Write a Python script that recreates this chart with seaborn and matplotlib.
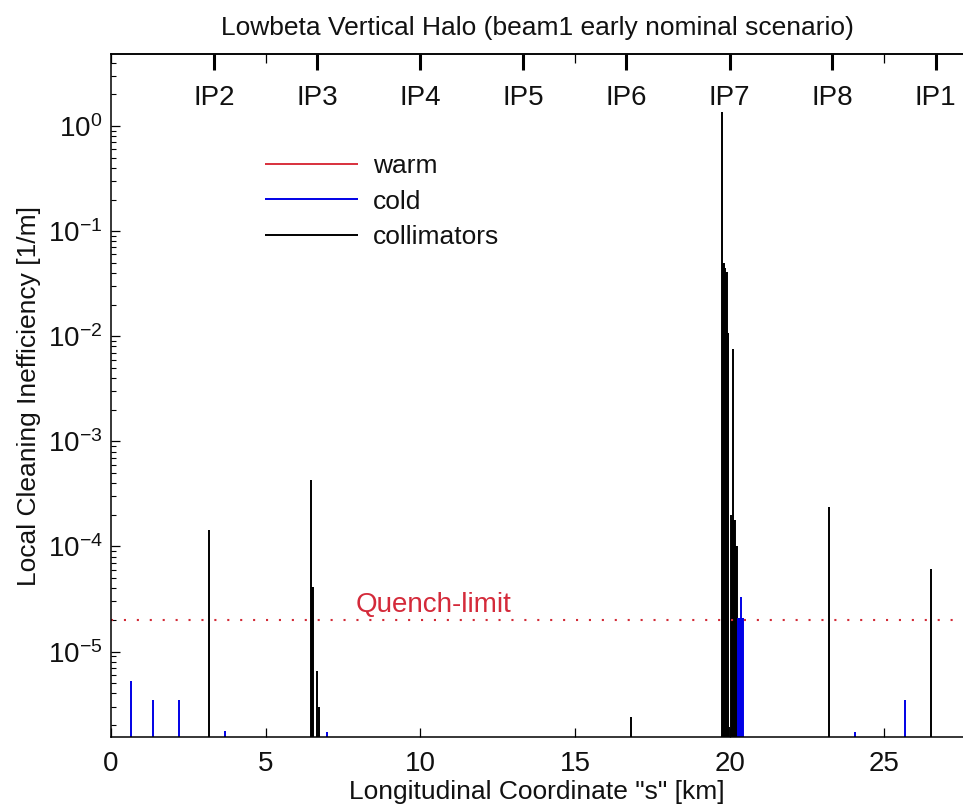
import matplotlib
matplotlib.use("Agg")
import matplotlib.pyplot as plt
import seaborn as sns
from matplotlib.ticker import LogLocator, FixedLocator, NullFormatter

# Loss locations along the ring [km] and local cleaning inefficiency [1/m]
coll_s = [3.17, 6.47, 6.50, 6.53, 6.65, 6.71, 16.81,
          19.76, 19.78, 19.80, 19.82, 19.84, 19.86, 19.88, 19.90, 19.92, 19.94, 19.955, 19.99,
          20.03, 20.06, 20.09, 20.12, 20.15, 20.18, 20.21, 20.24,
          23.21, 26.49]
coll_loss = [1.43e-4, 4.3e-4, 4.1e-5, 4.1e-5, 6.5e-6, 3.0e-6, 2.4e-6,
             1.37, 5.0e-2, 5.0e-2, 4.8e-2, 4.5e-2, 4.1e-2, 4.1e-2, 4.1e-2, 1.07e-2, 1.07e-2, 1.07e-2, 1.9e-6,
             2.0e-4, 1.8e-4, 7.5e-3, 1.8e-4, 1.8e-4, 1.8e-4, 1.0e-4, 1.0e-4,
             2.4e-4, 6.05e-5]

cold_s = [0.64, 1.35, 2.19, 3.68, 6.97,
          20.27, 20.30, 20.33, 20.36, 20.39, 20.42,
          24.05, 25.66]
cold_loss = [5.3e-6, 3.5e-6, 3.5e-6, 1.76e-6, 1.7e-6,
             2.1e-5, 2.1e-5, 2.1e-5, 3.3e-5, 2.1e-5, 2.1e-5,
             1.7e-6, 3.5e-6]

warm_s = []
warm_loss = []

ip_names = ["IP2", "IP3", "IP4", "IP5", "IP6", "IP7", "IP8", "IP1"]
ip_s = [3.332, 6.665, 9.997, 13.329, 16.661, 19.994, 23.315, 26.659]

x_ticks = [0, 5, 10, 15, 20, 25]
y_ticks = [1e-5, 1e-4, 1e-3, 1e-2, 1e-1, 1e0]
quench_limit = 2e-5

Y_MIN, Y_MAX = 1.54e-6, 4.85
X_MIN, X_MAX = 0.0, 27.54

sns.set_theme(style="ticks")
plt.rcParams.update({
    "font.family": ["Liberation Sans", "DejaVu Sans"],
    "mathtext.fontset": "custom",
    "mathtext.rm": "Liberation Sans",
    "mathtext.it": "Liberation Sans",
    "mathtext.bf": "Liberation Sans",
    "mathtext.default": "regular",
    "axes.edgecolor": "black",
    "axes.linewidth": 1.1,
    "text.color": "#111111",
    "axes.labelcolor": "#111111",
    "xtick.color": "black",
    "ytick.color": "black",
    "xtick.labelcolor": "#111111",
    "ytick.labelcolor": "#111111",
})

FS_TICK = 20
FS_TEXT = 19
W, H = 963, 810
fig = plt.figure(figsize=(W / 100, H / 100), dpi=100)
left, right, top, bottom = 111, 963, 54, 737
ax = fig.add_axes([left / W, 1 - bottom / H, (right - left) / W, (bottom - top) / H])

ax.set_yscale("log")
ax.set_xlim(X_MIN, X_MAX)
ax.set_ylim(Y_MIN, Y_MAX)

h_warm = ax.vlines(warm_s, Y_MIN, warm_loss, colors="#d8303c", lw=1.4, label="warm")
h_coll = ax.vlines(coll_s, Y_MIN, coll_loss, colors="black", lw=1.4, label="collimators")
h_cold = ax.vlines(cold_s, Y_MIN, cold_loss, colors="#0000e6", lw=1.4, label="cold")

# quench limit
ax.axhline(quench_limit, color="#d22a36", lw=1.5, linestyle=(0, (1.0, 5.2)))
ax.annotate("Quench-limit", xy=(7.9, quench_limit), xytext=(0, 5.5),
            textcoords="offset points", color="#d42a3a", fontsize=FS_TICK,
            ha="left", va="baseline")

# axis ticks
ax.xaxis.set_major_locator(FixedLocator(x_ticks))
ax.set_xticklabels([str(t) for t in x_ticks])
ax.yaxis.set_major_locator(FixedLocator(y_ticks))
ax.set_yticklabels([rf"$10^{{{int(round(__import__('math').log10(t)))}}}$" for t in y_ticks])
ax.yaxis.set_minor_locator(LogLocator(base=10, subs=range(2, 10), numticks=12))
ax.yaxis.set_minor_formatter(NullFormatter())
ax.tick_params(axis="x", which="major", direction="in", top=True, bottom=True,
               length=6.5, width=0.9, labelsize=FS_TICK, pad=10)
ax.tick_params(axis="y", which="major", direction="in", left=True, right=False,
               length=6.5, width=0.9, labelsize=FS_TICK, pad=6)
ax.tick_params(axis="y", which="minor", direction="in", left=True, right=False,
               length=3.6, width=0.8)
ax.spines["right"].set_visible(False)

# interaction point markers along the top
ip_ax = ax.secondary_xaxis("top")
ip_ax.set_xticks(ip_s)
ip_ax.set_xticklabels([])
ip_ax.tick_params(axis="x", direction="in", length=11.5, width=2.2)
ip_y = 1 - (105 - top) / (bottom - top)
for s, name in zip(ip_s, ip_names):
    ax.text(s, ip_y, name, transform=ax.get_xaxis_transform(),
            ha="center", va="baseline", fontsize=FS_TICK)

ax.set_xlabel('Longitudinal Coordinate "s" [km]', fontsize=FS_TEXT, labelpad=2)
ax.set_ylabel("Local Cleaning Inefficiency [1/m]", fontsize=FS_TEXT, labelpad=5)
ax.set_title("Lowbeta Vertical Halo (beam1 early nominal scenario)", fontsize=FS_TEXT, pad=14)

leg = ax.legend(handles=[h_warm, h_cold, h_coll], loc="upper left",
                bbox_to_anchor=((265 - left) / (right - left), 1 - (154 - top) / (bottom - top)),
                frameon=False, fontsize=FS_TEXT, handlelength=3.52, handletextpad=0.57,
                labelspacing=0.44, borderpad=0, borderaxespad=0)
for line in leg.get_lines():
    line.set_linewidth(1.4)

fig.savefig("out.png", dpi=100)
